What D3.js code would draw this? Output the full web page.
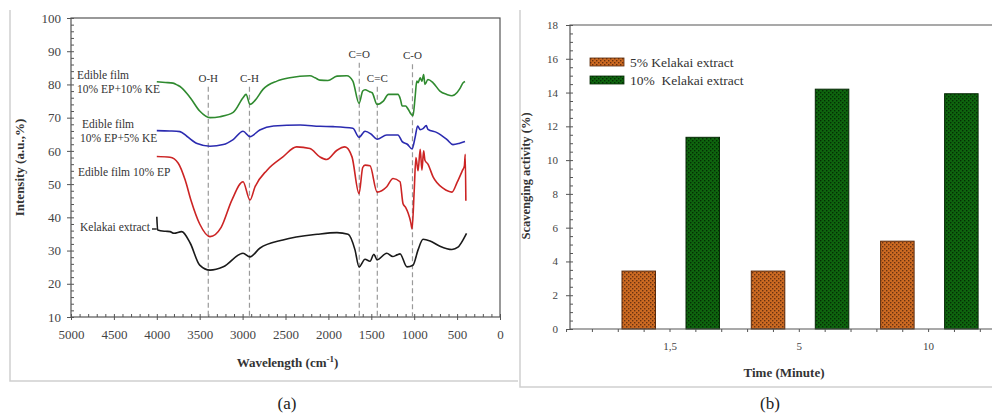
<!DOCTYPE html>
<html>
<head>
<meta charset="utf-8">
<script src="https://cdn.jsdelivr.net/npm/d3@7/dist/d3.min.js"></script>
<style>
  body { margin: 0; background: #fff; }
  text { font-family: "Liberation Serif", "DejaVu Serif", serif; }
</style>
</head>
<body>
<svg id="chart" width="992" height="414"></svg>
<script>
// ---- panel (a): FTIR spectra, [wavenumber, intensity] ----
var spectraNames = ["Edible film 10% EP+10% KE", "Edible film 10% EP+5% KE", "Edible film 10% EP", "Kelakai extract"];
var spectraColors = ["#2f8a2f", "#2b2bb0", "#cc2424", "#1a1a1a"];
var greenSpectrum = [[4000,80.8],[3900,80.6],[3810,80.4],[3760,79.8],[3710,79],[3610,76],[3500,72],[3380,70],[3263,70.3],[3110,71.6],[2995,76],[2960,77],[2914,74],[2855,75.2],[2760,78.6],[2600,81],[2450,82],[2215,82.6],[2155,82],[2100,81.3],[2005,81.2],[1900,82.5],[1785,82.6],[1715,81],[1643,74.3],[1600,78],[1573,78.4],[1520,77.8],[1490,77.5],[1433,74],[1360,75],[1300,77],[1260,77],[1190,77],[1160,75.5],[1140,73.5],[1100,73.5],[1072,72.6],[1040,71.2],[1014,70.6],[990,76],[970,81],[955,80.5],[930,82],[910,81],[890,83],[875,80],[840,81.5],[780,80.5],[700,78],[620,77],[560,76.6],[500,77.6],[466,78.8],[430,80.5],[408,80.9]];
var blueSpectrum = [[4000,66.1],[3850,66],[3730,65.8],[3650,64.4],[3530,62.2],[3380,61.4],[3225,61.9],[3110,63.4],[2995,65.9],[2914,64.3],[2800,66.3],[2640,67.5],[2330,67.8],[2100,67.4],[1945,67.3],[1715,66.8],[1643,64.1],[1573,65.9],[1500,65],[1433,63.5],[1320,64.8],[1190,64.8],[1140,62.8],[1080,62],[1025,60.6],[990,64],[960,67.5],[930,66.4],[897,66.7],[860,67.6],[840,66.5],[735,65.5],[618,63.4],[548,61.9],[470,62.3],[408,62.8]];
var redSpectrum = [[4000,58.3],[3846,58.1],[3750,56.3],[3670,51.3],[3600,45],[3500,38],[3380,34.2],[3250,37],[3125,45.2],[2995,50.7],[2914,45.2],[2855,49.2],[2715,54.2],[2530,58.2],[2370,61.2],[2215,60.7],[2100,58.2],[2020,57.4],[1900,60.2],[1808,61.2],[1725,58.2],[1643,47.1],[1600,55],[1573,55.7],[1515,55.5],[1433,47.6],[1320,49.2],[1247,51.7],[1165,50.7],[1130,44.1],[1100,43],[1070,41.2],[1040,38.5],[1025,36.5],[1000,48],[980,58],[955,54],[930,60.5],[910,54.2],[890,60],[875,57.2],[840,56],[780,52.2],[660,48.7],[560,47.6],[500,50.5],[440,54],[415,55.5],[405,59],[398,45]];
var blackSpectrum = [[4000,40.2],[3990,36.2],[3900,35.8],[3846,35.7],[3800,35.2],[3710,35.7],[3610,32.2],[3500,25.6],[3380,24.1],[3225,25.1],[2995,29.2],[2914,28.1],[2800,30.7],[2530,33.2],[2130,34.9],[1900,35.4],[1770,34.9],[1690,30.2],[1643,25.1],[1573,27.4],[1515,26.8],[1470,28.9],[1433,27.2],[1320,29.2],[1250,28.2],[1200,28.7],[1165,29],[1085,25.1],[1014,25.6],[955,30.2],[897,33.4],[815,32.9],[700,31.3],[560,30.3],[490,31],[450,32.4],[390,35.2]];
var spectra = [greenSpectrum, blueSpectrum, redSpectrum, blackSpectrum];

var bandNames = ["O-H", "C-H", "C=O", "C=C", "C-O"];
var bandPositions = [3400, 2920, 1640, 1430, 1020];
var bandLabelLevels = [80.8, 80.8, 88, 80.8, 87.6];

var wavenumberTicks = [5000, 4500, 4000, 3500, 3000, 2500, 2000, 1500, 1000, 500, 0];
var intensityTicks = [10, 20, 30, 40, 50, 60, 70, 80, 90, 100];

// ---- panel (b): scavenging activity ----
var timeLabels = ["1,5", "5", "10"];
var seriesNames = ["5% Kelakai extract", "10%  Kelakai extract"];
var scavenging5 = [3.43, 3.43, 5.2];
var scavenging10 = [11.35, 14.2, 13.93];
var activityTicks = [0, 2, 4, 6, 8, 10, 12, 14, 16, 18];

var svg = d3.select("#chart");

// patterns for the hatched bars
var defs = svg.append("defs");
function checker(id, base, dot) {
    var p = defs.append("pattern").attr("id", id).attr("patternUnits", "userSpaceOnUse")
        .attr("width", 4).attr("height", 4);
    p.append("rect").attr("width", 4).attr("height", 4).attr("fill", base);
    p.append("rect").attr("x", 0).attr("y", 0).attr("width", 1.4).attr("height", 1.4).attr("fill", dot);
    p.append("rect").attr("x", 2).attr("y", 2).attr("width", 1.4).attr("height", 1.4).attr("fill", dot);
}
checker("patOrange", "#cc6a22", "#6b3210");
checker("patGreen", "#0e650e", "#042e04");

// panel frames
svg.append("path").attr("d", "M10,10V381H518").attr("fill", "none").attr("stroke", "#cfcfcf").attr("stroke-width", 1.5);
svg.append("path").attr("d", "M520,10V387H992").attr("fill", "none").attr("stroke", "#cfcfcf").attr("stroke-width", 1.5);

// ================= panel (a) =================
var ax = { left: 71, right: 500, top: 18, bottom: 317 };
var x = d3.scaleLinear().domain([5000, 0]).range([ax.left, ax.right]);
var y = d3.scaleLinear().domain([10, 100]).range([ax.bottom, ax.top]);
var ga = svg.append("g");

ga.append("rect").attr("x", ax.left).attr("y", ax.top)
    .attr("width", ax.right - ax.left).attr("height", ax.bottom - ax.top)
    .attr("fill", "none").attr("stroke", "#555").attr("stroke-width", 1.2);

// minor ticks
ga.append("g").attr("transform", "translate(0," + ax.bottom + ")")
    .call(d3.axisBottom(x).tickValues(d3.range(0, 5001, 100)).tickSize(-3).tickFormat(""))
    .call(function (g) { g.select(".domain").remove(); g.selectAll("line").attr("stroke", "#555"); });
ga.append("g").attr("transform", "translate(" + ax.left + ",0)")
    .call(d3.axisLeft(y).tickValues(d3.range(10, 101, 2)).tickSize(-3).tickFormat(""))
    .call(function (g) { g.select(".domain").remove(); g.selectAll("line").attr("stroke", "#555"); });

var xAxisA = ga.append("g").attr("transform", "translate(0," + ax.bottom + ")")
    .call(d3.axisBottom(x).tickValues(wavenumberTicks).tickSize(3).tickPadding(10).tickFormat(d3.format("d")));
var yAxisA = ga.append("g").attr("transform", "translate(" + ax.left + ",0)")
    .call(d3.axisLeft(y).tickValues(intensityTicks).tickSize(4).tickPadding(6));
[xAxisA, yAxisA].forEach(function (g) {
    g.attr("font-family", null);
    g.select(".domain").remove();
    g.selectAll("line").attr("stroke", "#555");
    g.selectAll("text").attr("font-size", 13).attr("fill", "#444");
});

var xTitle = ga.append("text").attr("x", (ax.left + ax.right) / 2 + 2).attr("y", 367)
    .attr("text-anchor", "middle").attr("font-size", 13).attr("font-weight", "bold").attr("fill", "#333");
xTitle.append("tspan").text("Wavelength (cm");
xTitle.append("tspan").attr("dy", -5).attr("font-size", 9).text("-1");
xTitle.append("tspan").attr("dy", 5).text(")");
ga.append("text").attr("transform", "translate(24," + (ax.top + ax.bottom) / 2 + ") rotate(-90)")
    .attr("text-anchor", "middle").attr("font-size", 13).attr("font-weight", "bold").attr("fill", "#333")
    .text("Intensity (a.u.,%)");

// band markers
bandNames.forEach(function (name, i) {
    var bx = x(bandPositions[i]);
    ga.append("line").attr("x1", bx).attr("x2", bx)
        .attr("y1", y(bandLabelLevels[i]) + 5).attr("y2", ax.bottom)
        .attr("stroke", "#9a9a9a").attr("stroke-width", 1.2).attr("stroke-dasharray", "5,3");
    ga.append("text").attr("x", bx).attr("y", y(bandLabelLevels[i]))
        .attr("text-anchor", "middle").attr("font-size", 11).attr("fill", "#333").text(name);
});

// spectra
var line = d3.line().x(function (d) { return x(d[0]); }).y(function (d) { return y(d[1]); })
    .curve(d3.curveMonotoneX);
spectra.forEach(function (s, i) {
    ga.append("path").datum(s).attr("d", line).attr("fill", "none")
        .attr("stroke", spectraColors[i]).attr("stroke-width", 1.6);
});

// series labels
var labelLines = [["Edible film", "10% EP+10% KE"], ["Edible film", "10% EP+5% KE"], ["Edible film 10% EP"], ["Kelakai extract"]];
var labelPos = [[77, 79], [80, 128], [78, 176], [80, 231]];
labelLines.forEach(function (rows, i) {
    rows.forEach(function (r, j) {
        ga.append("text").attr("x", labelPos[i][0] + (i === 1 && j === 0 ? 2 : 0))
            .attr("y", labelPos[i][1] + j * 14).attr("font-size", 11.5).attr("fill", "#333").text(r);
    });
});
ga.append("line").attr("x1", 152).attr("x2", x(blackSpectrum[0][0]))
    .attr("y1", 229).attr("y2", 229).attr("stroke", "#1a1a1a").attr("stroke-width", 1.4);

ga.append("text").attr("x", 287).attr("y", 409).attr("text-anchor", "middle")
    .attr("font-size", 17).attr("fill", "#222").text("(a)");

// ================= panel (b) =================
var bx0 = 570, bTop = 25, bBottom = 329;
var step = 129.3;
var xb = d3.scaleBand().domain(timeLabels).range([670 - step / 2, 670 - step / 2 + step * timeLabels.length]);
var yb = d3.scaleLinear().domain([0, 18]).range([bBottom, bTop]);
var gb = svg.append("g");

gb.append("path").attr("d", "M" + bx0 + "," + bBottom + "V" + bTop + "H995")
    .attr("fill", "none").attr("stroke", "#555").attr("stroke-width", 1.2);

gb.append("g").attr("transform", "translate(" + bx0 + ",0)")
    .call(d3.axisLeft(yb).tickValues(d3.range(0, 18.01, 0.5)).tickSize(-3).tickFormat(""))
    .call(function (g) { g.select(".domain").remove(); g.selectAll("line").attr("stroke", "#555"); });
var yAxisB = gb.append("g").attr("transform", "translate(" + bx0 + ",0)")
    .call(d3.axisLeft(yb).tickValues(activityTicks).tickSize(4).tickPadding(8));
yAxisB.attr("font-family", null);
yAxisB.select(".domain").remove();
yAxisB.selectAll("line").attr("stroke", "#555");
yAxisB.selectAll("text").attr("font-size", 11).attr("fill", "#444");

// bars
var inner = 33.5;
var offsets = [-48, 16];
[scavenging5, scavenging10].forEach(function (vals, s) {
    gb.selectAll(".bar" + s).data(vals).enter().append("rect")
        .attr("x", function (d, i) { return xb(timeLabels[i]) + xb.bandwidth() / 2 + offsets[s]; })
        .attr("y", function (d) { return yb(d); })
        .attr("width", inner)
        .attr("height", function (d) { return yb(0) - yb(d); })
        .attr("fill", s === 0 ? "url(#patOrange)" : "url(#patGreen)")
        .attr("stroke", s === 0 ? "#5a2a0c" : "#062a06").attr("stroke-width", 1);
});

// x axis with fine ticks
var xTicks = d3.range(-4, 16).map(function (k) { return 670 + k * step / 5; });
gb.append("line").attr("x1", bx0).attr("x2", 995).attr("y1", bBottom).attr("y2", bBottom)
    .attr("stroke", "#555").attr("stroke-width", 1.2);
gb.selectAll(".xtick").data(xTicks).enter().append("line")
    .attr("x1", function (d) { return d; }).attr("x2", function (d) { return d; })
    .attr("y1", bBottom).attr("y2", bBottom + 3).attr("stroke", "#555");
gb.selectAll(".xlab").data(timeLabels).enter().append("text")
    .attr("x", function (d) { return xb(d) + xb.bandwidth() / 2; }).attr("y", 350)
    .attr("text-anchor", "middle").attr("font-size", 11).attr("fill", "#444").text(function (d) { return d; });

gb.append("text").attr("x", 784).attr("y", 377).attr("text-anchor", "middle")
    .attr("font-size", 13).attr("font-weight", "bold").attr("fill", "#333").text("Time (Minute)");
gb.append("text").attr("transform", "translate(530,176) rotate(-90)").attr("text-anchor", "middle")
    .attr("font-size", 12.5).attr("font-weight", "bold").attr("fill", "#333").text("Scavenging activity (%)");

// legend
seriesNames.forEach(function (n, i) {
    gb.append("rect").attr("x", 590).attr("y", 58 + i * 18).attr("width", 34).attr("height", 8)
        .attr("fill", i === 0 ? "url(#patOrange)" : "url(#patGreen)")
        .attr("stroke", i === 0 ? "#5a2a0c" : "#062a06").attr("stroke-width", 0.8);
    gb.append("text").attr("x", 630).attr("y", 67 + i * 18).attr("font-size", 13.5)
        .style("white-space", "pre").attr("fill", "#333").text(n);
});

gb.append("text").attr("x", 770).attr("y", 409).attr("text-anchor", "middle")
    .attr("font-size", 17).attr("fill", "#222").text("(b)");
</script>
</body>
</html>
